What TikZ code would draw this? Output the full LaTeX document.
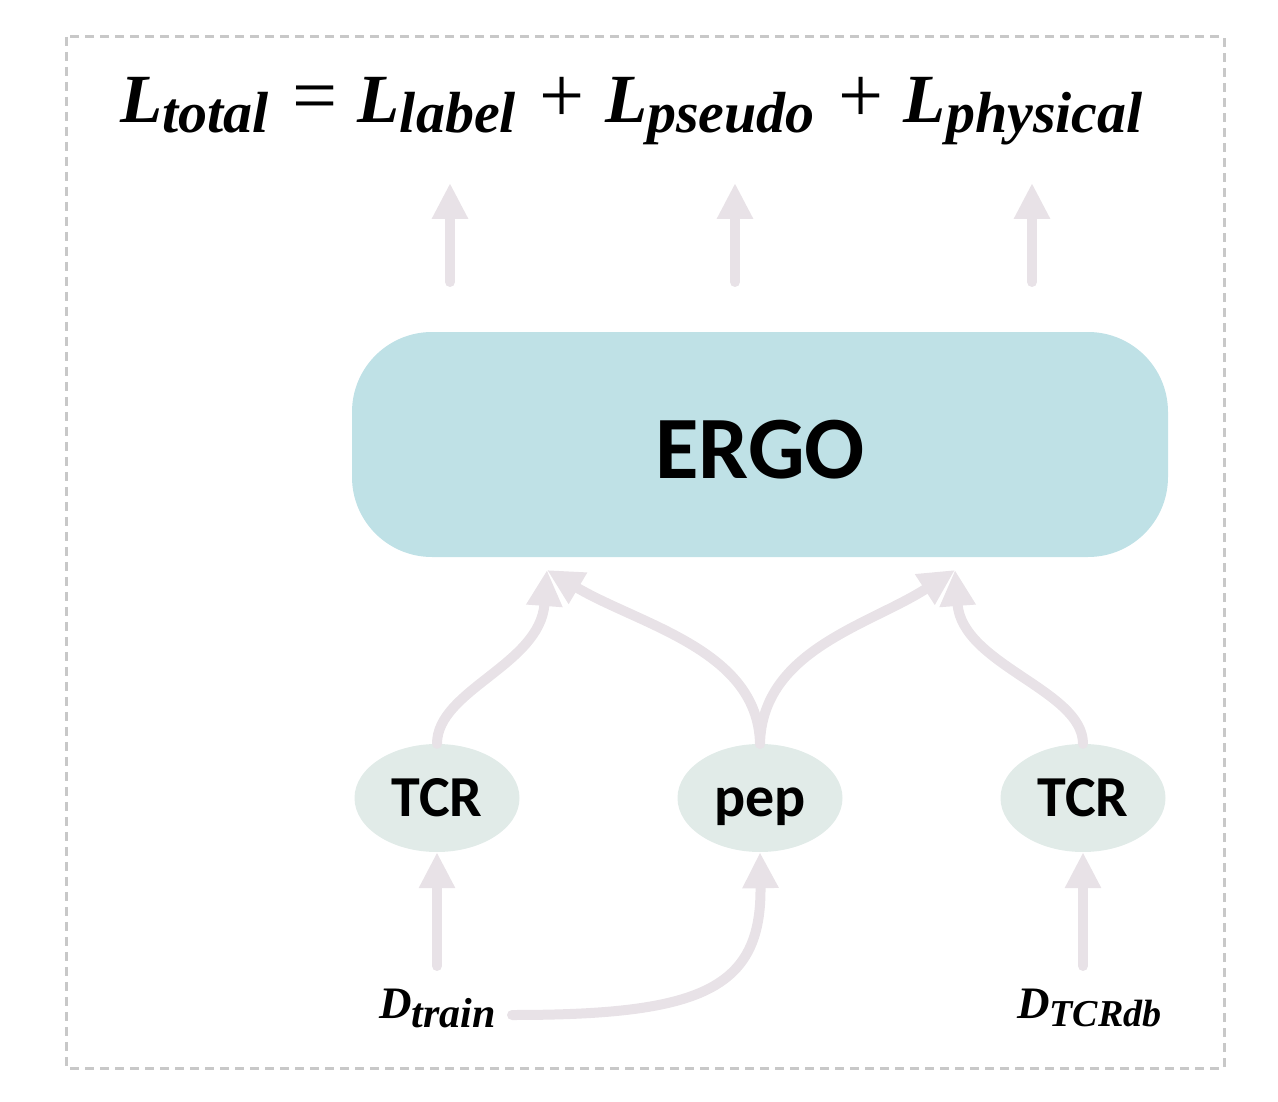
\documentclass[tikz,border=0pt]{standalone}
\usepackage{fontspec}
\newfontfamily\carl{Carlito}
\newfontfamily\tms{Liberation Serif}
\usetikzlibrary{shapes.geometric,arrows.meta}
\definecolor{arrowc}{HTML}{E8E2E7}
\definecolor{ergofill}{HTML}{BFE1E6}
\definecolor{ellfill}{HTML}{E1EBE8}
\definecolor{borderc}{HTML}{C8C8C8}
% main letter with lowered subscript
\newcommand\LetSub[5]{{\fontsize{#3}{#3}\selectfont #1}\raisebox{-#5}{\fontsize{#4}{#4}\selectfont #2}}
\newcommand\FOp[1]{\hspace{24pt}{\upshape\mdseries\fontsize{80}{80}\selectfont #1}\hspace{20pt}}
\tikzset{
  flow/.style={draw=arrowc, line width=10pt, line cap=round, -{Triangle[width=34pt,length=36pt]}},
  ellnode/.style={ellipse, fill=ellfill, minimum width=165pt, minimum height=108pt, inner sep=0pt,
     text height=36pt, text depth=0pt, font=\carl\bfseries\fontsize{58}{60}\selectfont},
  dlabel/.style={inner sep=0pt, anchor=base west, font=\tms\bfseries\itshape}
}
\begin{document}
\begin{tikzpicture}[x=1pt,y=-1pt]
\useasboundingbox (0,0) rectangle (1278,1102);
\draw[borderc, line width=3pt, dash pattern=on 9pt off 6pt] (66,37) rectangle (1224,1068);
% formula
\node[inner sep=0pt, anchor=base west, font=\tms\bfseries\itshape] (formula) at (120,123)
  {\LetSub{L}{total}{69}{58}{10pt}\FOp{=}\LetSub{L}{label}{69}{58}{10pt}\FOp{+}\LetSub{L}{pseudo}{69}{58}{10pt}\FOp{+}\LetSub{L}{physical}{69}{58}{10pt}};
% top arrows
\coordinate (a1s) at (450,282); \coordinate (a1t) at (450,183);
\coordinate (a2s) at (735,282); \coordinate (a2t) at (735,183);
\coordinate (a3s) at (1032,282); \coordinate (a3t) at (1032,183);
\draw[flow] (a1s) -- (a1t);
\draw[flow] (a2s) -- (a2t);
\draw[flow] (a3s) -- (a3t);
% ERGO
\node[fill=ergofill, rounded corners=80pt, minimum width=816pt, minimum height=225pt, inner sep=0pt,
  text height=67pt, text depth=0pt, font=\carl\bfseries\fontsize{89}{92}\selectfont] (ergo) at (760,444.5) {ERGO};
% ellipses
\node[ellnode] (tcr1) at (437,798) {TCR};
\node[ellnode] (pep) at (760,798) {pep};
\node[ellnode] (tcr2) at (1083,798) {TCR};
% tips
\coordinate (tipL) at (547,570);
\coordinate (tipR) at (955,570);
\draw[flow] (tcr1.north) .. controls (437,690) and (540,665) .. (tipL);
\draw[flow] (pep.north) .. controls (758,650) and (640,625) .. (tipL);
\draw[flow] (pep.north) .. controls (762,650) and (870,625) .. (tipR);
\draw[flow] (tcr2.north) .. controls (1083,690) and (962,665) .. (tipR);
% bottom labels
\node[dlabel] (dtrain) at (379,1018) {\LetSub{D}{train}{45}{42}{9pt}};
\node[dlabel] (dtcr) at (1017,1018) {\LetSub{D}{TCRdb}{45}{38}{8pt}};
\coordinate (b1s) at (437,966); \coordinate (b2s) at (1083,966);
\coordinate (cstart) at (512,1015);
\draw[flow] (b1s) -- (tcr1.south);
\draw[flow] (b2s) -- (tcr2.south);
\draw[flow] (cstart) .. controls (700,1015) and (762,990) .. (pep.south);
\end{tikzpicture}
\end{document}
